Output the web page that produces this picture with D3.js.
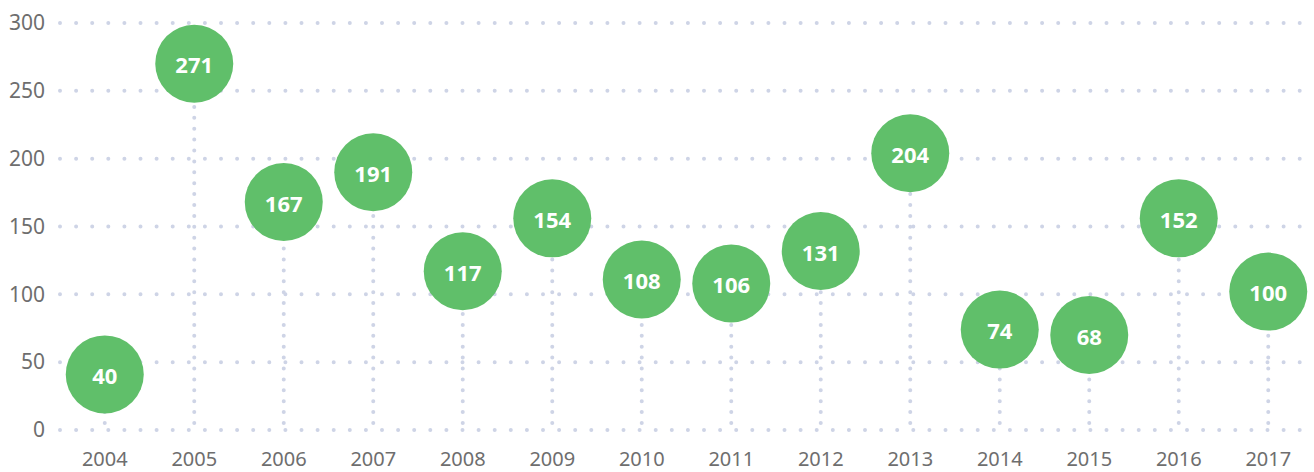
<!DOCTYPE html>
<html><head><meta charset="utf-8">
<script src="https://cdn.jsdelivr.net/npm/d3@7"></script>
<style>body{margin:0;background:#fff}svg{display:block}</style>
</head><body>
<svg id="c" width="1314" height="472"></svg>
<script>
const years = ["2004","2005","2006","2007","2008","2009","2010","2011","2012","2013","2014","2015","2016","2017"];
// labelled values
const values = [40,271,167,191,117,154,108,106,131,204,74,68,152,100];
// vertical position of each bubble (slightly offset from labels)
const bubbleValues = [41,270,168,190,117,156,111,108,132,204,74,70,156,102];
const yTicks = [0,50,100,150,200,250,300];

const svg = d3.select("#c");
const font = "'Noto Sans', sans-serif";
const gridColor = "#ced4e6";
const x = d3.scaleBand().domain(years).range([60,1313]);
const y = d3.scaleLinear().domain([0,300]).range([430,23]);

// horizontal grid
svg.append("g").selectAll("line").data(yTicks).join("line")
  .attr("x1",60).attr("x2",1314)
  .attr("y1",d=>y(d)).attr("y2",d=>y(d))
  .attr("stroke",gridColor).attr("stroke-width",4)
  .attr("stroke-linecap","round").attr("stroke-dasharray","0 16.1");

// y labels
const yAxis = d3.axisLeft(y).tickValues(yTicks).tickSize(0).tickPadding(0);
const gy = svg.append("g").attr("transform","translate(45,0)").call(yAxis);
gy.select(".domain").remove();
gy.selectAll("text").attr("font-family",font).attr("font-size",21).attr("fill","#6e6e6e");

// x labels
const xAxis = d3.axisBottom(x).tickSize(0).tickPadding(0);
const gx = svg.append("g").attr("transform","translate(0,466)").call(xAxis);
gx.select(".domain").remove();
gx.selectAll("text").attr("dy",null).attr("font-family",font).attr("font-size",20).attr("fill","#6e6e6e");

const cx = d=>x(d)+x.bandwidth()/2;
const data = years.map((yr,i)=>({yr,v:values[i],p:bubbleValues[i]}));

// vertical dotted stems
svg.append("g").selectAll("line").data(data).join("line")
  .attr("x1",d=>cx(d.yr)).attr("x2",d=>cx(d.yr))
  .attr("y1",y(0)-7).attr("y2",d=>y(d.p))
  .attr("stroke",gridColor).attr("stroke-width",4)
  .attr("stroke-linecap","round").attr("stroke-dasharray","0 10.9");

// circles
svg.append("g").selectAll("circle").data(data).join("circle")
  .attr("cx",d=>cx(d.yr)).attr("cy",d=>y(d.p)).attr("r",39)
  .attr("fill","#60bf6a");

// value labels
svg.append("g").selectAll("text").data(data).join("text")
  .attr("x",d=>cx(d.yr)).attr("y",d=>y(d.p)+2).attr("dy","0.35em")
  .attr("text-anchor","middle").attr("font-family",font)
  .attr("font-size",22).attr("font-weight","bold").attr("fill","#fff")
  .text(d=>d.v);
</script>
</body></html>
